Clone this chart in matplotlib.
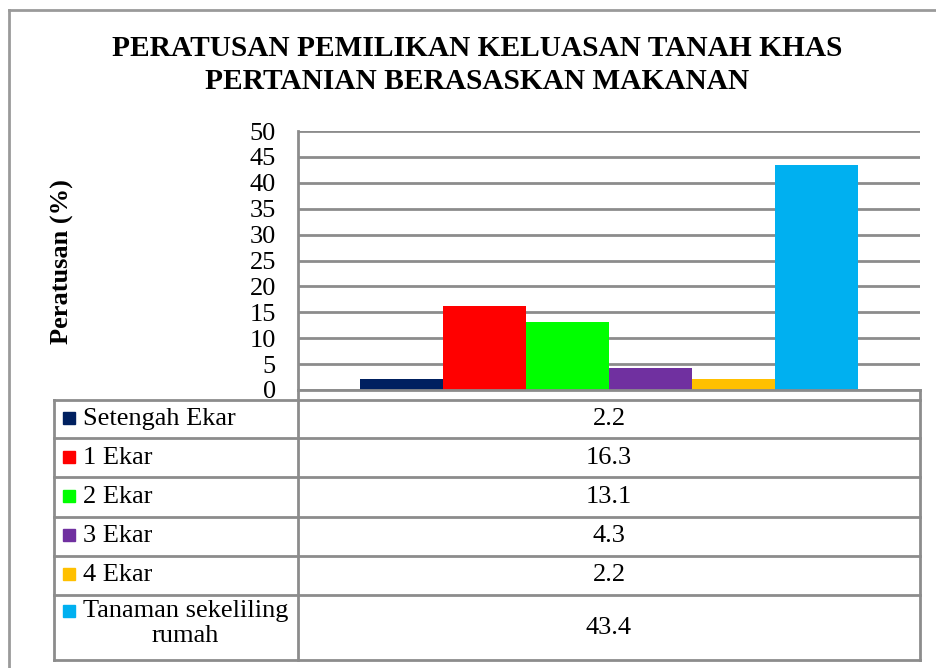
import numpy as np
import matplotlib.pyplot as plt
from matplotlib.lines import Line2D
from matplotlib.patches import Rectangle

# data
series = ['Setengah Ekar', '1 Ekar', '2 Ekar', '3 Ekar', '4 Ekar', 'Tanaman sekeliling\nrumah']
values = [2.2, 16.3, 13.1, 4.3, 2.2, 43.4]
colors = ['#002060', '#FF0000', '#00FF00', '#7030A0', '#FFC000', '#00B0F0']
yticks = [0, 5, 10, 15, 20, 25, 30, 35, 40, 45, 50]

W, H = 937, 668
plt.rcParams['font.family'] = ['Liberation Serif', 'DejaVu Serif']
fig = plt.figure(figsize=(W / 100, H / 100), dpi=100)

def fx(px):
    return px / W

def fy(py):
    return 1 - py / H

grid_c = '#8c8c8c'

# outer border
fig.add_artist(Line2D([fx(9), fx(9)], [fy(10), fy(668)], color='#9a9a9a', lw=2))
fig.add_artist(Line2D([fx(9), fx(937)], [fy(10), fy(10)], color='#9a9a9a', lw=2))

# plot area
left, right, top, bottom = 298, 920, 131, 390
ax = fig.add_axes([fx(left), fy(bottom), fx(right - left), (bottom - top) / H])
n = len(values)
bw = 1 / (n + 1.5)
x0 = -n * bw / 2
for i, (v, c) in enumerate(zip(values, colors)):
    ax.bar(x0 + (i + 0.5) * bw, v, width=bw, color=c, zorder=3)
ax.set_xlim(-0.5, 0.5)
ax.set_ylim(0, 50)
ax.set_yticks(yticks)
ax.set_yticklabels([str(t) for t in yticks], fontsize=19)
ax.tick_params(axis='y', length=0, pad=16)
ax.set_xticks([])
ax.grid(axis='y', color=grid_c, lw=2, zorder=0)
for s in ['top', 'right', 'bottom']:
    ax.spines[s].set_visible(False)
ax.spines['left'].set_color(grid_c)
ax.spines['left'].set_linewidth(2)

fig.text(fx(62), fy(262), 'Peratusan (%)', rotation=90, ha='center', va='center',
         fontsize=19, fontweight='bold')

fig.text(fx(477), fy(65), 'PERATUSAN PEMILIKAN KELUASAN TANAH KHAS\nPERTANIAN BERASASKAN MAKANAN',
         ha='center', va='center', fontsize=21.2, fontweight='bold', linespacing=1.25)

# data table
tl, tm, tr = 54, 298, 920
rows = [399.5, 438, 477, 516.5, 555.5, 595, 660]
tax = fig.add_axes([0, 0, 1, 1])
tax.set_xlim(0, W)
tax.set_ylim(H, 0)
tax.axis('off')
tax.plot([tm, tr], [bottom, bottom], color=grid_c, lw=2)
tax.plot([tm, tm], [bottom, rows[-1]], color=grid_c, lw=2)
tax.plot([tr, tr], [bottom, rows[-1]], color=grid_c, lw=2)
tax.plot([tl, tl], [rows[0], rows[-1]], color=grid_c, lw=2)
for r in rows:
    tax.plot([tl, tr], [r, r], color=grid_c, lw=2)
for i, (name, v, c) in enumerate(zip(series, values, colors)):
    y1, y2 = rows[i], rows[i + 1]
    if '\n' in name:
        ty = y1 + 17
        tax.text(83, y1 + 5, name, ha='left', va='top', fontsize=19,
                 multialignment='center', linespacing=1.2)
    else:
        ty = (y1 + y2) / 2
        tax.text(83, ty, name, ha='left', va='center', fontsize=19)
    tax.add_patch(Rectangle((63, ty - 7), 12, 12, color=c))
    tax.text((tm + tr) / 2, (y1 + y2) / 2, f'{v:g}', ha='center', va='center', fontsize=19)

fig.savefig('out.png', dpi=100)
